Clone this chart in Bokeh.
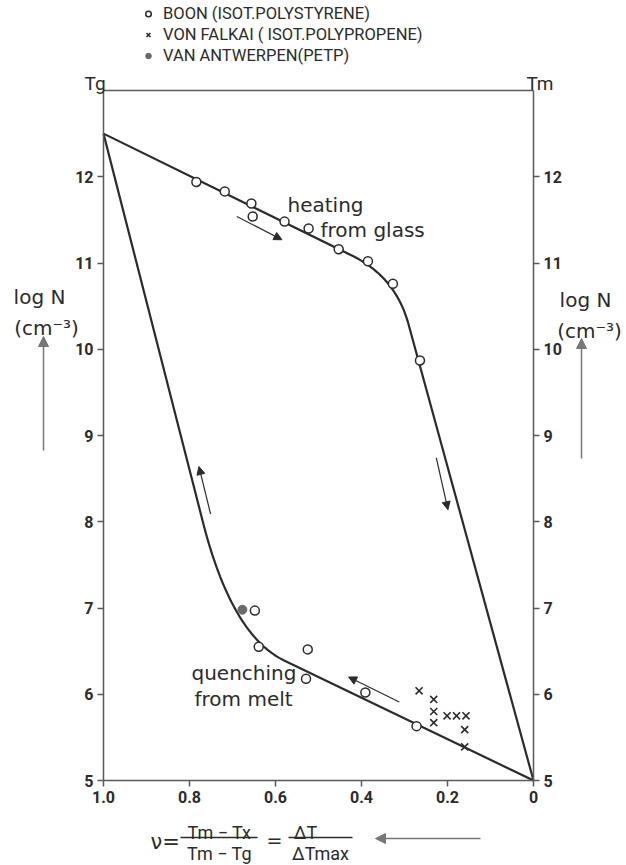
import numpy as np
from bokeh.plotting import figure
from bokeh.models import (Range1d, LinearAxis, FixedTicker, Label, Arrow,
                          NormalHead, Legend, LegendItem)
from bokeh.embed import file_html
from bokeh.resources import INLINE

# Boon, isotactic polystyrene: heating from the glass (upper branch)
boon_heat_x = [0.784, 0.718, 0.656, 0.653, 0.579, 0.523, 0.453, 0.385, 0.327, 0.264]
boon_heat_y = [11.94, 11.83, 11.69, 11.54, 11.48, 11.40, 11.16, 11.02, 10.76, 9.87]
# Boon, isotactic polystyrene: quenching from the melt (lower branch)
boon_quench_x = [0.648, 0.639, 0.525, 0.529, 0.391, 0.272]
boon_quench_y = [6.97, 6.55, 6.52, 6.18, 6.02, 5.63]
# von Falkai, isotactic polypropene
falkai_x = [0.266, 0.232, 0.232, 0.232, 0.201, 0.179, 0.157, 0.160, 0.160]
falkai_y = [6.04, 5.94, 5.80, 5.67, 5.75, 5.75, 5.75, 5.59, 5.39]
# van Antwerpen, PETP
antwerpen_x = [0.677]
antwerpen_y = [6.98]

# Curves: start, knee entry, knee corner, knee exit, end
heating_x = [1.0, 0.42, 0.321, 0.291, 0.0]
heating_y = [12.5, 11.08, 10.836, 10.296, 5.0]
quench_x = [1.0, 0.769, 0.702, 0.58, 0.0]
quench_y = [12.5, 8.0, 6.685, 6.392, 5.0]

y_ticks = [5, 6, 7, 8, 9, 10, 11, 12]
x_ticks = [1.0, 0.8, 0.6, 0.4, 0.2, 0.0]
x_tick_labels = ["1.0", "0.8", "0.6", "0.4", "0.2", "0"]

# axis box in data units and page layout in pixels
X_LO, X_HI = 0.0, 1.0
Y_LO, Y_HI = 5.0, 13.0
W, H = 626, 865
BOX_LEFT, BOX_RIGHT, BOX_TOP, BOX_BOTTOM = 103, 533, 90, 780

INK = "#2b2b2b"
AXIS = "#5a5a5a"
FONT = "DejaVu Sans"
CAPS = "Roboto"

# the x axis runs from 1.0 (left) to 0 (right)
sx = (BOX_RIGHT - BOX_LEFT) / (X_HI - X_LO)
sy = (BOX_BOTTOM - BOX_TOP) / (Y_HI - Y_LO)


def dx(px):
    """page x pixel -> data x"""
    return X_LO + (BOX_RIGHT - px) / sx


def dy(py):
    """page y pixel (from top) -> data y"""
    return Y_LO + (BOX_BOTTOM - py) / sy


def knee_path(xs, ys, n=60):
    """Straight run, quadratic rounded knee, straight run."""
    t = np.linspace(0.0, 1.0, n)
    x0, x1, x2 = xs[1:4]
    y0, y1, y2 = ys[1:4]
    bx = (1 - t) ** 2 * x0 + 2 * t * (1 - t) * x1 + t ** 2 * x2
    by = (1 - t) ** 2 * y0 + 2 * t * (1 - t) * y1 + t ** 2 * y2
    return [xs[0], *bx, xs[4]], [ys[0], *by, ys[4]]


p = figure(width=W, height=H, min_border=0,
           x_range=Range1d(dx(0), dx(W)), y_range=Range1d(dy(H), dy(0)),
           x_axis_location=None, y_axis_location=None,
           output_backend="svg", toolbar_location=None)
p.grid.visible = False
p.outline_line_color = None
p.background_fill_color = "white"
p.border_fill_color = "white"


def style_axis(ax):
    ax.axis_line_color = AXIS
    ax.axis_line_width = 1.5
    ax.major_tick_line_color = AXIS
    ax.major_tick_line_width = 1.5
    ax.major_tick_out = 6
    ax.major_tick_in = 0
    ax.minor_tick_line_color = None
    ax.major_label_text_font = CAPS
    ax.major_label_text_font_size = "16px"
    ax.major_label_text_font_style = "bold"
    ax.major_label_text_color = INK
    ax.major_label_standoff = 4


xaxis = LinearAxis(fixed_location=Y_LO, bounds=(X_LO, X_HI),
                   ticker=FixedTicker(ticks=x_ticks),
                   major_label_overrides=dict(zip(x_ticks, x_tick_labels)))
left = LinearAxis(fixed_location=X_HI, bounds=(Y_LO, Y_HI),
                  ticker=FixedTicker(ticks=y_ticks))
right = LinearAxis(fixed_location=X_LO, bounds=(Y_LO, Y_HI),
                   ticker=FixedTicker(ticks=y_ticks))
top = LinearAxis(fixed_location=Y_HI, bounds=(X_LO, X_HI),
                 ticker=FixedTicker(ticks=[]))
for ax in (xaxis, left, right, top):
    style_axis(ax)
p.add_layout(xaxis, "below")
p.add_layout(left, "left")
p.add_layout(right, "right")
p.add_layout(top, "above")

# curves
hx, hy = knee_path(heating_x, heating_y)
qx, qy = knee_path(quench_x, quench_y)
p.line(hx, hy, line_color=INK, line_width=2.2)
p.line(qx, qy, line_color=INK, line_width=2.2)

# measurements
r_boon = p.scatter(boon_heat_x + boon_quench_x, boon_heat_y + boon_quench_y,
                   marker="circle", size=9, fill_color="white",
                   line_color=INK, line_width=1.5)
r_falkai = p.scatter(falkai_x, falkai_y, marker="x", size=10,
                     line_color=INK, line_width=1.6)
r_antw = p.scatter(antwerpen_x, antwerpen_y, marker="circle", size=9,
                   fill_color="#6a6a6a", line_color="#6a6a6a")

legend = Legend(items=[
    LegendItem(label="BOON (ISOT.POLYSTYRENE)", renderers=[r_boon]),
    LegendItem(label="VON FALKAI ( ISOT.POLYPROPENE)", renderers=[r_falkai]),
    LegendItem(label="VAN ANTWERPEN(PETP)", renderers=[r_antw]),
], location=(141, H - 66), orientation="vertical", border_line_color=None,
    background_fill_alpha=0, padding=0, margin=0, spacing=0,
    label_height=21, glyph_height=21, glyph_width=14, label_standoff=8,
    label_text_font=CAPS, label_text_font_size="16.5px",
    label_text_color=INK)
p.add_layout(legend)


def text(x, y, s, size="20px", align="left", font=FONT, color=INK,
         baseline="alphabetic"):
    p.add_layout(Label(x=x, y=y, text=s, text_font=font, text_font_size=size,
                       text_align=align, text_baseline=baseline,
                       text_color=color))


def arrow(x0, y0, x1, y1, color=INK, width=1.2, head=8):
    p.add_layout(Arrow(x_start=x0, y_start=y0, x_end=x1, y_end=y1,
                       line_color=color, line_width=width,
                       end=NormalHead(size=head, fill_color=color,
                                      line_color=color)))


# branch annotations
text(dx(287), dy(204), "heating")
text(dx(320), dy(229), "from glass")
text(dx(191), dy(672), "quenching")
text(dx(194), dy(698), "from melt")
arrow(0.690, 11.54, 0.585, 11.27)
arrow(0.226, 8.74, 0.199, 8.14)
arrow(0.751, 8.09, 0.778, 8.64)
arrow(0.312, 5.91, 0.430, 6.20)

# corner labels
text(dx(84), dy(83), "Tg", size="19px", font=CAPS)
text(dx(526), dy(83), "Tm", size="19px", font=CAPS)

# y-axis titles on both sides
text(dx(39), dy(296), "log N", align="center")
text(dx(46), dy(327), "(cm⁻³)", align="center")
arrow(dx(43), dy(450), dx(43), dy(336), color="#777", width=1.5, head=10)
text(dx(585), dy(299), "log N", align="center")
text(dx(589), dy(330), "(cm⁻³)", align="center")
arrow(dx(581), dy(458), dx(581), dy(338), color="#777", width=1.5, head=10)

# x-axis title: reduced undercooling
text(dx(150), dy(841), "ν=", size="21px", baseline="middle")
text(dx(219), dy(832), "Tm − Tx", size="18px", align="center", font=CAPS)
text(dx(219), dy(853), "Tm − Tg", size="18px", align="center", font=CAPS)
p.segment(x0=[dx(180), dx(288)], y0=[dy(837), dy(837)],
          x1=[dx(257), dx(352)], y1=[dy(837), dy(837)],
          line_color=INK, line_width=1.5)
text(dx(274), dy(839), "=", size="19px", align="center", baseline="middle")
text(dx(305), dy(832), "ΔT", size="18px", align="center", font=CAPS)
text(dx(320), dy(853), "ΔTmax", size="18px", align="center", font=CAPS)
arrow(dx(480), dy(838), dx(375), dy(838), color="#777", width=1.5, head=10)

open("out.html", "w").write(file_html(p, INLINE))
